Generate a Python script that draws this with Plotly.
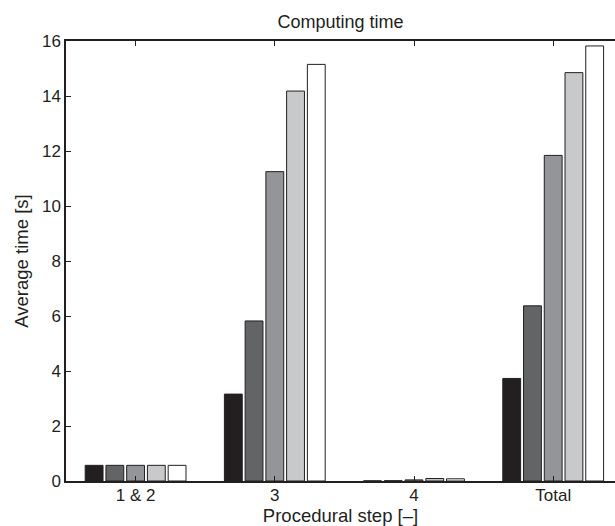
import plotly.graph_objects as go

categories = ["1 & 2", "3", "4", "Total"]
series_a = [0.57, 3.16, 0.005, 3.73]
series_b = [0.57, 5.82, 0.01, 6.37]
series_c = [0.57, 11.25, 0.04, 11.84]
series_d = [0.57, 14.18, 0.09, 14.85]
series_e = [0.57, 15.15, 0.08, 15.82]
colors = ["#231f20", "#636466", "#939598", "#c8c9cb", "#ffffff"]
y_ticks = [0, 2, 4, 6, 8, 10, 12, 14, 16]

xpos = [1, 2, 3, 4]
fig = go.Figure()
for vals, col in zip([series_a, series_b, series_c, series_d, series_e], colors):
    fig.add_trace(go.Bar(x=xpos, y=vals, marker=dict(color=col, line=dict(color="#231f20", width=1))))

font = "Liberation Sans, Arial, sans-serif"
fig.update_layout(
    width=615, height=526,
    margin=dict(l=66, r=0, t=41, b=45),
    paper_bgcolor="white", plot_bgcolor="white",
    showlegend=False,
    barmode="group", bargap=0.255, bargroupgap=0.14,
    font=dict(family=font, size=17, color="#231f20"),
    title=dict(text="Computing time", x=0.5, xanchor="center", xref="paper", y=0.958, yanchor="middle",
               font=dict(family=font, size=18, color="#231f20")),
)
fig.update_xaxes(
    range=[0.5, 4.444], tickmode="array", tickvals=xpos, ticktext=categories,
    showgrid=False, zeroline=False, showline=True, linecolor="#231f20", linewidth=1.5,
    mirror="ticks", ticks="inside", ticklen=5, tickcolor="#231f20", tickwidth=1,
    ticklabelstandoff=-2,
    title=dict(text="Procedural step [–]", standoff=3, font=dict(size=18.5)),
)
fig.update_yaxes(
    range=[0, 16], tickmode="array", tickvals=y_ticks,
    showgrid=False, zeroline=False, showline=True, linecolor="#231f20", linewidth=1.5,
    ticks="inside", ticklen=5, tickcolor="#231f20", tickwidth=1,
    title=dict(text="Average time [s]", standoff=8, font=dict(size=18.5)),
)
fig.write_html("out.html")
